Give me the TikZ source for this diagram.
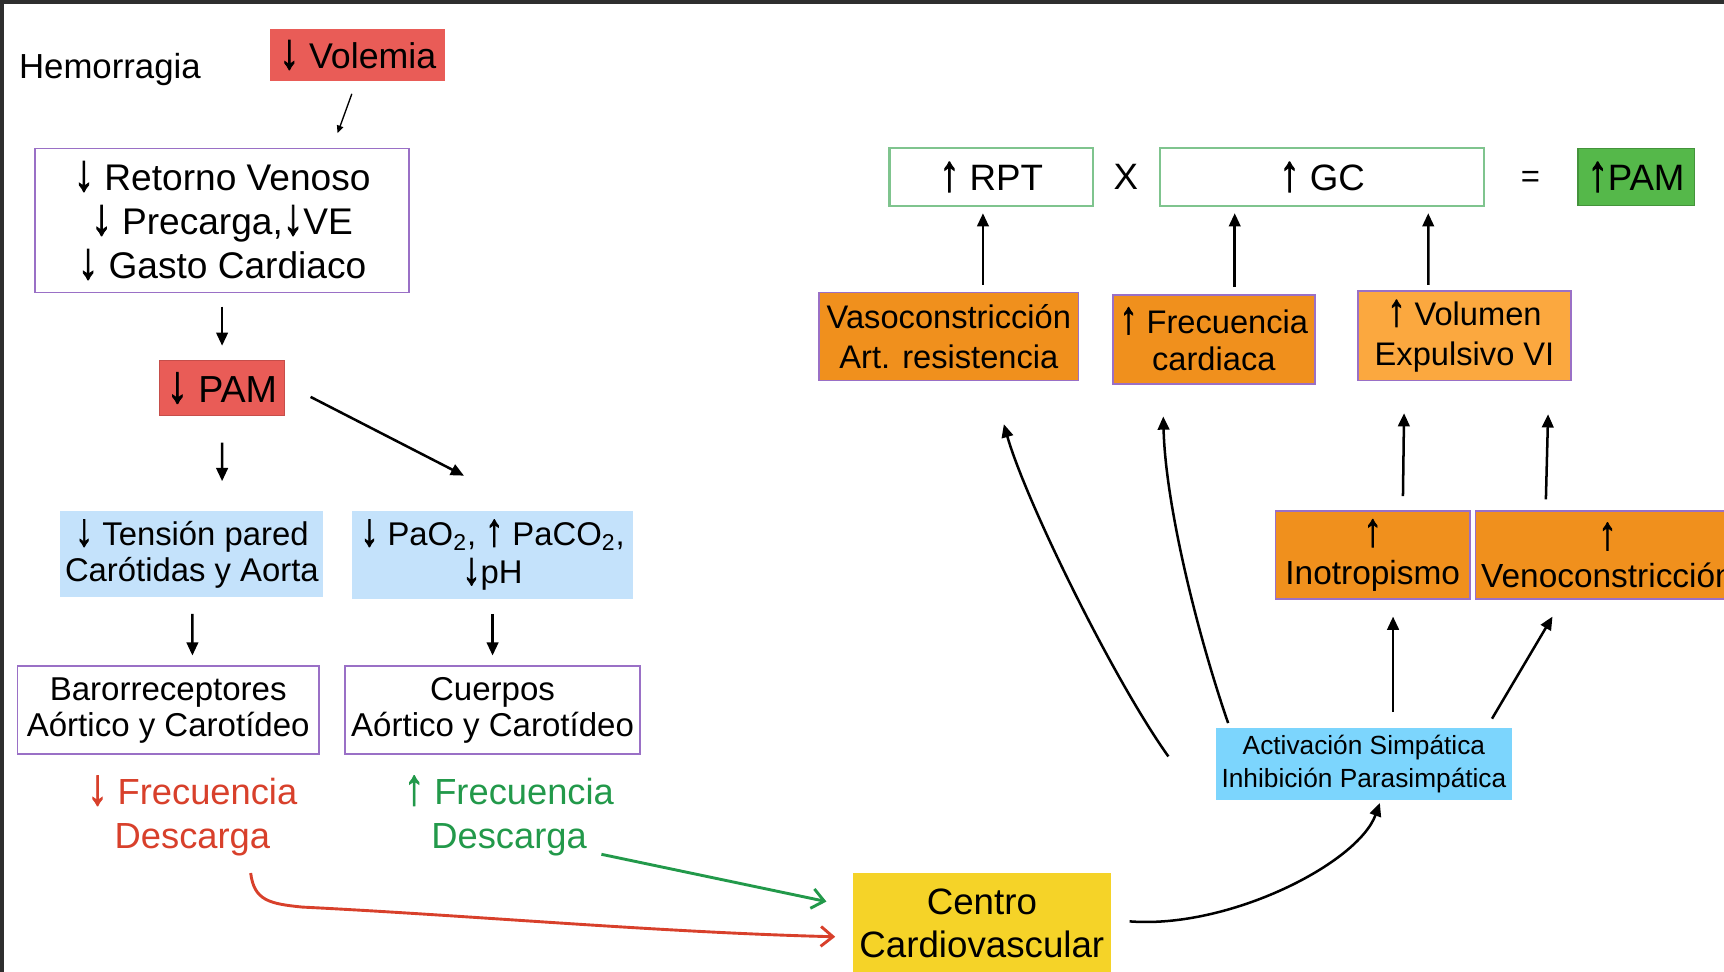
\documentclass[tikz,border=0pt]{standalone}
\usepackage{fontspec}
\usepackage{graphicx}
\setmainfont{Liberation Sans}
\newfontfamily\flechafont[FakeBold=2]{Liberation Sans}
\usetikzlibrary{arrows.meta,calc}

\definecolor{marco}{HTML}{2E2E2E}
\definecolor{rojobox}{HTML}{E95C57}
\definecolor{azulclaro}{HTML}{C4E2FB}
\definecolor{celeste}{HTML}{7CD5FD}
\definecolor{naranja}{HTML}{F0901D}
\definecolor{naranjaclaro}{HTML}{FBA83F}
\definecolor{verdepam}{HTML}{55B84A}
\definecolor{verdeborde}{HTML}{7FC48E}
\definecolor{morado}{HTML}{9A70C6}
\definecolor{amarillo}{HTML}{F5D328}
\definecolor{txtrojo}{HTML}{D8402B}
\definecolor{txtverde}{HTML}{22994A}

% flechas de texto algo mas altas y gruesas
\newcommand\bajo{{\flechafont\scalebox{1.1}[1.4]{↓}}}
\newcommand\sube{{\flechafont\scalebox{1.1}[1.4]{↑}}}

\begin{document}
\begin{tikzpicture}[
  x = 0.02cm, y = -0.02cm,
  every node/.style = {align=center, inner sep=0pt},
  caja/.style 2 args = {minimum width=#1*0.02cm, minimum height=#2*0.02cm},
  letra/.style 2 args = {font=\fontsize{#1}{#2}\selectfont},
  morada/.style = {draw=morado, line width=0.9pt},
  verdosa/.style = {draw=verdeborde, line width=1.1pt, fill=white},
  flecha/.style = {-{Triangle[length=0.24cm,width=0.21cm]}, line width=1.3pt},
  barba/.style = {-{Straight Barb[length=0.22cm,width=0.36cm]}, line width=1.5pt}
]
% fondo y borde oscuro
\path[use as bounding box] (0,0) rectangle (1568,884);
\clip (0,0) rectangle (1568,884);
\fill[white] (0,0) rectangle (1568,884);
\fill[marco] (0,0) rectangle (1568,3.3);
\fill[marco] (0,0) rectangle (3.6,884);

% columna izquierda
\node[letra={18}{22}, anchor=base west] (hemo) at (17,71) {Hemorragia};
\node[caja={159}{48}, fill=rojobox, letra={18.5}{22}] (volemia) at (325.5,50) {\bajo\ Volemia};
\node[caja={340}{131}, morada, letra={19.2}{22.8}] (retorno) at (202,200.5)
  {\bajo\ Retorno Venoso\\\bajo\ Precarga,\bajo VE\\\bajo\ Gasto Cardiaco};
\node[caja={114}{50}, fill=rojobox, draw=rojobox!85!black, line width=0.6pt, letra={19.5}{22}] (pam) at (202,353) {\bajo\ PAM};
\node[caja={239}{78}, fill=azulclaro, letra={17}{18.8}] (tension) at (174.5,504)
  {\bajo\ Tensión pared\\Carótidas y Aorta};
\node[caja={256}{80}, fill=azulclaro, letra={17}{19.9}] (gases) at (448,505)
  {\bajo\ PaO\textsubscript{2}, \sube\ PaCO\textsubscript{2},\\\bajo pH};
\node[caja={274}{80}, morada, letra={17.1}{18.8}] (baro) at (153,646)
  {Barorreceptores\\Aórtico y Carotídeo};
\node[caja={268}{80}, morada, letra={17.1}{18.8}] (cuerpos) at (448,646)
  {Cuerpos\\Aórtico y Carotídeo};
\node[text=txtrojo, letra={18.8}{22.8}] (descroja) at (175,742) {\bajo\ Frecuencia\\Descarga};
\node[text=txtverde, letra={18.8}{22.8}] (descverde) at (463,742) {\sube\ Frecuencia\\Descarga};
\node[caja={234}{92}, fill=amarillo, letra={19}{22.2}] (centro) at (893,840)
  {Centro\\Cardiovascular};

\draw[flecha, line width=0.7pt, -{Triangle[length=0.14cm,width=0.12cm]}]
  ($(volemia.south)+(-5.5,11)$) -- ($(retorno.north)+(105,-13)$);
\draw[flecha] ($(retorno.south)+(0,12)$) -- ($(pam.north)+(0,-13)$);
\draw[flecha] ($(pam.south)+(0,24)$) -- ($(tension.north)+(27.5,-27)$);
\draw[flecha] ($(pam.east)+(23,8)$) -- ($(gases.north)+(-26,-32)$);
\draw[flecha] ($(tension.south)+(0.5,15)$) -- ($(baro.north)+(22,-9)$);
\draw[flecha] ($(gases.south)+(0,13)$) -- ($(cuerpos.north)+(0,-9)$);

% hacia el centro cardiovascular
\draw[barba, txtverde] ($(descverde.center)+(84,35)$) -- ($(centro.west)+(-24,-20)$);
\draw[barba, txtrojo] ($(descroja.center)+(53,52)$) .. controls +(3,25) and +(-30,-3) .. (275,825)
  .. controls +(160,8) and +(-160,-4) .. ($(centro.west)+(-16,12)$);

% columna derecha
\node[caja={269}{66}, fill=celeste, letra={13.6}{17.1}] (activ) at (1240.5,695)
  {Activación Simpática\\Inhibición Parasimpática};
\node[caja={177}{80}, fill=naranja, morada, letra={17.3}{19.9}] (ino) at (1248.5,505) {\sube\\Inotropismo};
\node[caja={240}{80}, fill=naranja, morada, letra={17.3}{19.9}] (veno) at (1462,505) {\sube\\Venoconstricción};
\node[caja={236}{80}, fill=naranja, morada, letra={16.9}{20.5}] (vaso) at (863,306)
  {Vasoconstricción\\Art. resistencia};
\node[caja={184}{81}, fill=naranja, morada, letra={16.9}{19.4}] (frec) at (1104,308.5)
  {\sube\ Frecuencia\\cardiaca};
\node[caja={194}{81}, fill=naranjaclaro, morada, letra={16.9}{20.5}] (vol) at (1332,305.5)
  {\sube\ Volumen\\Expulsivo VI};
\node[caja={185}{52}, verdosa, letra={19}{22}] (rpt) at (901.5,161) {\sube\ RPT};
\node[letra={19}{22}] (por) at (1024,161) {X};
\node[caja={295}{52}, verdosa, letra={19}{22}] (gc) at (1202.5,161) {\sube\ GC};
\node[letra={17}{22}] (igual) at (1392,163) {=};
\node[caja={106}{52}, fill=verdepam, draw=verdepam!80!black, line width=0.8pt, letra={19}{22}] (pamsube) at (1488,161) {\sube PAM};

\draw[flecha] ($(centro.east)+(17,-2)$) .. controls +(90,7) and +(-20,55) .. ($(activ.south)+(14.5,2)$);
\draw[flecha] ($(activ.west)+(-43,-7)$) .. controls +(-50,-70) and +(20,70) .. ($(vaso.south)+(50,39)$);
\draw[flecha] ($(activ.north)+(-123.5,-4)$) .. controls +(-27,-78) and +(2,82) .. ($(frec.south)+(-46,29)$);
\draw[flecha] ($(activ.north)+(26.5,-14)$) -- ($(ino.south)+(18.5,15)$);
\draw[flecha] ($(activ.north)+(116.5,-8)$) -- ($(veno.south)+(-50,15)$);
\draw[flecha] ($(ino.north)+(27.5,-13)$) -- ($(vol.south)+(-55,29)$);
\draw[flecha] ($(veno.north)+(-56,-10)$) -- ($(vol.south)+(76,30)$);
\draw[flecha] ($(vaso.north)+(31,-6)$) -- ($(rpt.south)+(-7.5,6)$);
\draw[flecha] ($(frec.north)+(19,-6)$) -- ($(gc.south)+(-79.5,6)$);
\draw[flecha] ($(vol.north)+(-33,-5)$) -- ($(gc.south)+(96.5,6)$);

\end{tikzpicture}
\end{document}
